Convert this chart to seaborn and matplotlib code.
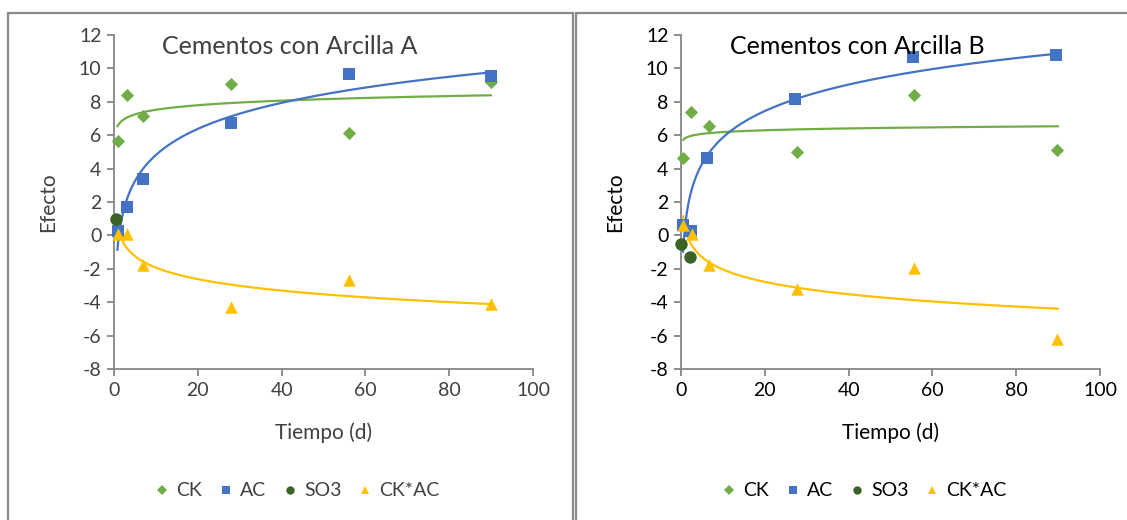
import numpy as np
import pandas as pd
import matplotlib
matplotlib.use("Agg")
import matplotlib.pyplot as plt
from matplotlib.lines import Line2D
from matplotlib.patches import Rectangle
import seaborn as sns

# ---------------- data ----------------
titles = ["Cementos con Arcilla A", "Cementos con Arcilla B"]
series_names = ["CK", "AC", "SO3", "CK*AC"]

# Panel A
a_ck_x = [1, 3, 7, 28, 56, 90]
a_ck_y = [5.64, 8.4, 7.16, 9.04, 6.14, 9.18]
a_ac_x = [1, 3, 7, 28, 56, 90]
a_ac_y = [0.28, 1.72, 3.36, 6.76, 9.68, 9.54]
a_so3_x = [0.5]
a_so3_y = [0.99]
a_ckac_x = [1, 3, 7, 28, 56, 90]
a_ckac_y = [0.1, 0.1, -1.8, -4.3, -2.68, -4.08]

# Panel B
b_ck_x = [0.5, 2.5, 6.6, 27.6, 55.7, 89.7]
b_ck_y = [4.64, 7.4, 6.54, 5.0, 8.42, 5.14]
b_ac_x = [0.5, 2.3, 6.2, 27.3, 55.4, 89.5]
b_ac_y = [0.6, 0.24, 4.64, 8.14, 10.68, 10.8]
b_so3_x = [0.0, 2.1]
b_so3_y = [-0.51, -1.28]
b_ckac_x = [0.5, 2.6, 6.6, 27.6, 55.7, 89.7]
b_ckac_y = [0.62, 0.1, -1.8, -3.2, -1.95, -6.2]

x_ticks = [0, 20, 40, 60, 80, 100]
y_ticks = [-8, -6, -4, -2, 0, 2, 4, 6, 8, 10, 12]

# ---------------- style ----------------
sns.set_theme(style="white")
plt.rcParams["font.family"] = ["Lato", "DejaVu Sans"]
plt.rcParams["axes.unicode_minus"] = False

colors = {"CK": "#70AD47", "AC": "#4472C4", "SO3": "#3B6327", "CK*AC": "#FFC000"}
markers = {"CK": "D", "AC": "s", "SO3": "o", "CK*AC": "^"}
sizes = {"CK": 45, "AC": 70, "SO3": 80, "CK*AC": 80}
spine_col = "#868686"

fig = plt.figure(figsize=(11.27, 5.2), dpi=100)

# panel borders
fig.patches.append(Rectangle((8 / 1127, -0.1), (573 - 8) / 1127, 1.1 - 13 / 520,
                             transform=fig.transFigure, fill=False,
                             edgecolor="#8a8a8a", lw=1.6))
fig.patches.append(Rectangle((576 / 1127, -0.1), 0.6, 1.1 - 13 / 520,
                             transform=fig.transFigure, fill=False,
                             edgecolor="#8a8a8a", lw=1.6))

panels = [
    dict(left=114 / 1127, txt="#404040", title=titles[0], line_x0=0.8,
         data={"CK": (a_ck_x, a_ck_y), "AC": (a_ac_x, a_ac_y),
               "SO3": (a_so3_x, a_so3_y), "CK*AC": (a_ckac_x, a_ckac_y)}),
    dict(left=681 / 1127, txt="#000000", title=titles[1], line_x0=0.5,
         data={"CK": (b_ck_x, b_ck_y), "AC": (b_ac_x, b_ac_y),
               "SO3": (b_so3_x, b_so3_y), "CK*AC": (b_ckac_x, b_ckac_y)}),
]

ax_w = 419 / 1127
ax_b = (520 - 369) / 520
ax_h = 334 / 520

for p in panels:
    ax = fig.add_axes([p["left"], ax_b, ax_w, ax_h])
    ax.set_facecolor("none")
    # trendlines (logarithmic fits of the data)
    for name in ["CK", "AC", "CK*AC"]:
        xs, ys = p["data"][name]
        xs = np.asarray(xs, float)
        ys = np.asarray(ys, float)
        b, a = np.polyfit(np.log(xs), ys, 1)
        gx = np.geomspace(p["line_x0"], 90, 300)
        df_line = pd.DataFrame({"x": gx, "y": a + b * np.log(gx)})
        sns.lineplot(data=df_line, x="x", y="y", color=colors[name], lw=1.6,
                     ax=ax, legend=False, zorder=2)
    for name in series_names:
        xs, ys = p["data"][name]
        df = pd.DataFrame({"x": xs, "y": ys})
        sns.scatterplot(data=df, x="x", y="y", marker=markers[name],
                        color=colors[name], s=sizes[name], linewidth=0,
                        ax=ax, legend=False, zorder=3, clip_on=False)

    ax.set_xlim(0, 100)
    ax.set_ylim(-8, 12)
    ax.set_xticks(x_ticks)
    ax.set_yticks(y_ticks)
    for s in ["top", "right"]:
        ax.spines[s].set_visible(False)
    for s in ["left", "bottom"]:
        ax.spines[s].set_color(spine_col)
        ax.spines[s].set_linewidth(1.3)
    ax.tick_params(axis="both", which="both", direction="out", length=5,
                   width=1.3, color=spine_col, labelsize=14,
                   labelcolor=p["txt"], pad=4, bottom=True, left=True)
    ax.set_xlabel("Tiempo (d)", fontsize=15, color=p["txt"], labelpad=17)
    ax.set_ylabel("Efecto", fontsize=15, color=p["txt"], labelpad=15)
    ax.text(0.42, 0.965, p["title"], transform=ax.transAxes, ha="center",
            va="center", fontsize=18, color=p["txt"])

    handles = [Line2D([], [], ls="none", marker=markers[n], color=colors[n],
                      markersize={"CK": 5, "AC": 6, "SO3": 6, "CK*AC": 6}[n],
                      markeredgewidth=0) for n in series_names]
    leg = ax.legend(handles, series_names, loc="center",
                    bbox_to_anchor=(0.432, -0.365), ncol=4, frameon=False,
                    fontsize=14, handletextpad=0.15, columnspacing=0.6,
                    handlelength=1.2)
    for t in leg.get_texts():
        t.set_color(p["txt"])

fig.savefig("out.png", dpi=100)
